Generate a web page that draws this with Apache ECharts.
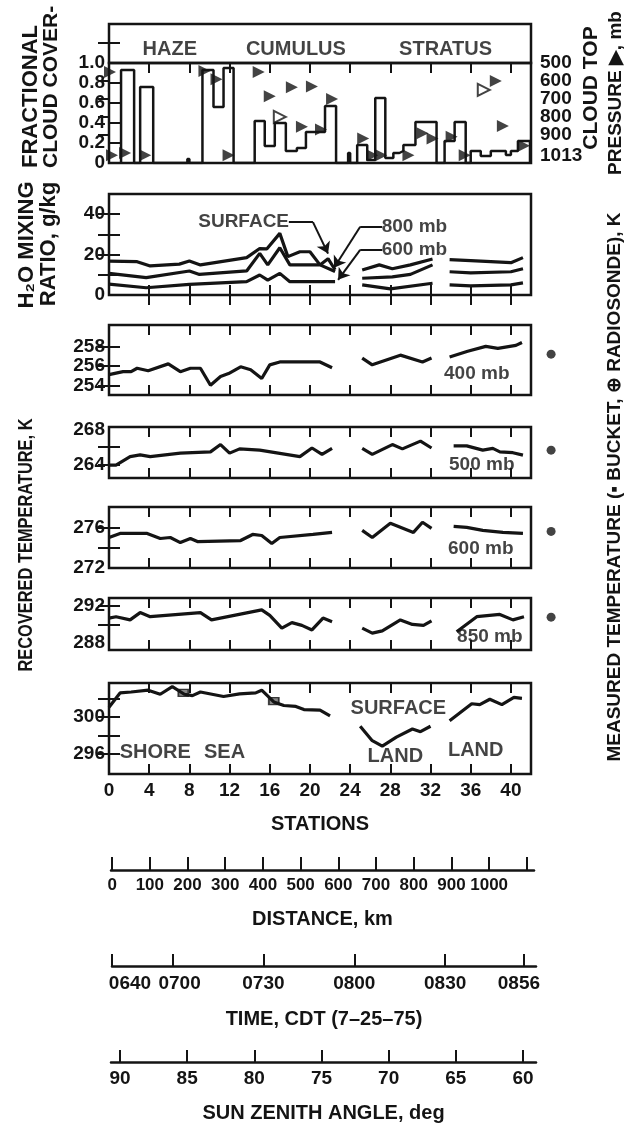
<!DOCTYPE html>
<html><head><meta charset="utf-8">
<script src="https://cdn.jsdelivr.net/npm/echarts@6/dist/echarts.min.js"></script>
<style>html,body{margin:0;padding:0;background:#fff}#c{width:631px;height:1124px}</style>
</head><body><div id="c"></div>
<script>
const FONT = "'Liberation Sans', Arial, sans-serif";
const INK = '#141414';

// ---------- DATA ----------
// fractional cloud cover: step segments (station start, station end, cover)
const cloudStart = [1.2,3.1,7.8,9.3,10.4,11.4,14.5,15.5,16.5,17.6,18.7,19.6,21.5,23.8,24.7,25.7,26.5,27.5,28.3,28.9,29.3,30.5,33.4,34.4,36.0,37.0,38.0,39.5,40.0,40.7];
const cloudEnd   = [2.5,4.4,8.0,10.4,11.4,12.4,15.5,16.5,17.6,18.7,19.6,21.5,22.6,24.0,25.7,26.5,27.5,28.3,28.9,29.3,30.5,32.6,34.4,35.5,37.0,38.0,39.5,40.0,40.7,41.9];
const cloudCover = [0.93,0.76,0.04,0.93,0.56,0.95,0.42,0.17,0.40,0.12,0.15,0.31,0.57,0.10,0.18,0.03,0.65,0.05,0.10,0.12,0.18,0.41,0.22,0.41,0.12,0.07,0.12,0.08,0.12,0.22];
// cloud top pressure (triangles)
const cloudTopStation  = [0.1,0.3,1.6,3.6,9.5,10.7,11.9,14.9,16.0,17.0,18.2,19.2,20.2,21.1,22.2,25.3,26.2,27.1,29.8,31.2,32.2,34.1,35.4,37.3,38.5,39.2,41.3];
const cloudTopPressure = [550,1013,1000,1013,545,590,1013,550,685,800,635,855,630,870,700,920,1013,1013,1013,890,920,910,1013,650,600,850,960];
const cloudTopHollow   = [0,0,0,0,0,0,0,0,0,1,0,0,0,0,0,0,0,0,0,0,0,0,0,1,0,0,0];

// H2O mixing ratio, g/kg  ([station, value], null = gap)
const h2oSurface = [[0,16.8],[2.8,16.5],[4.1,14.4],[7,15.3],[8,16.8],[9.1,14.9],[13.7,18.5],[15,23],[15.7,22.8],[17,30.5],[17.8,19],[19,21.4],[20,21.4],[21,14.9],[21.8,18],[22.5,12.5],null,[25.2,12.4],[26.9,14.9],[28.2,13],[30,14.9],[32.2,17.8],null,[33.9,17.5],[36,17],[38,16.5],[40,16],[41.2,18.5]];
const h2o800 = [[0,10.7],[3.7,8.6],[8,11.9],[9,10.2],[13.7,11.9],[15,20.6],[15.8,14.9],[17,23.4],[18,14.9],[21,14.9],[22.5,11.6],null,[25.2,8.3],[28.2,9],[30,10.2],[32.2,14.9],null,[33.9,11.5],[36,11],[40,11.5],[41.2,13]];
const h2o600 = [[0,5.4],[3.7,3.6],[8,5.3],[13.7,6.6],[15,9.9],[15.8,7.4],[17,10.7],[18,6.6],[22.5,6.6],null,[25.2,5],[28,3],[32.2,5.8],null,[33.9,5],[36,4.5],[40,5],[41.2,6]];

// recovered temperatures, K
const t400 = [[0,255.1],[1.4,255.4],[2.2,255.4],[2.8,255.75],[3.9,255.5],[5.9,256.2],[7.1,255.4],[8.1,255.75],[9.1,255.75],[10.1,254.0],[11.1,254.9],[11.9,255.2],[13.1,255.9],[14.1,255.6],[15.2,254.7],[16,256.1],[17,256.4],[21,256.4],[22.2,255.8],null,[25.2,256.8],[26.2,256.1],[29,257.1],[31.2,256.4],[32.1,256.8],null,[33.9,256.9],[35.7,257.5],[37.5,258.0],[38.7,257.8],[40.5,258.1],[41.1,258.4]];
const t500 = [[0,263.9],[0.7,263.9],[2.1,264.9],[3.1,265.1],[4.1,264.9],[7.1,265.3],[10.1,265.45],[11.1,266.3],[12,265.3],[13,265.8],[15,265.65],[19,264.9],[20.2,265.9],[21.2,265.15],[22.2,265.85],null,[25.2,265.85],[26.2,265.15],[28.2,266.3],[29.2,265.8],[31,266.7],[32.1,265.9],null,[34.3,266.15],[35.6,266.15],[37.2,265.65],[38.2,265.85],[38.9,265.45],[40.2,265.35],[41.2,265.07]];
const t600 = [[0,275.0],[1.1,275.4],[3.8,275.4],[5.1,274.9],[6.1,275.0],[7.1,274.5],[8.1,274.9],[8.8,274.6],[13.1,274.7],[14.3,275.3],[15.2,275.2],[16.2,274.4],[17,275.0],[20.3,275.3],[22.2,275.5],null,[25.2,275.7],[26.2,275.0],[28,276.4],[30.3,275.5],[31.2,276.5],[32.1,275.9],null,[34.3,276.1],[35.6,276.0],[37.2,275.7],[39.2,275.5],[41.2,275.4]];
const t850 = [[0,290.7],[0.7,290.85],[2.1,290.5],[3.1,291.3],[4.1,290.85],[9.1,291.3],[10.2,290.5],[15.2,291.6],[16,291.0],[17.2,289.6],[18.2,290.2],[19.2,289.9],[20.2,289.4],[21.3,290.7],[22.2,290.3],null,[25.2,289.6],[26.2,289.05],[27.2,289.3],[29,290.5],[30.2,290.0],[31.3,289.9],[32.1,290.4],null,[34.6,289.2],[36.6,290.85],[38.9,291.1],[40.2,290.5],[41.3,290.85]];
const tSurface = [[0,301.1],[1.1,302.7],[2.2,302.8],[3.9,303.0],[5.1,302.55],[6.3,303.4],[7.5,302.55],[8.3,302.4],[9.1,302.8],[11.4,302.3],[13,302.6],[14.6,302.7],[15.2,303.0],[16.4,301.7],[17.4,301.3],[18.6,301.2],[19.4,300.85],[21,300.8],[22,300.15],null,[25,299.0],[26.2,297.4],[27.2,296.8],[28.6,297.8],[30.2,298.7],[31,298.4],[32,299.0],null,[33.9,299.6],[36.1,301.5],[36.9,301.4],[37.9,302.0],[39.1,301.4],[40.3,302.2],[41.1,302.1]];

// measured temperatures
const bucketStation = [7.4, 16.4];
const bucketTemp = [302.7, 301.8];
const radiosondeStation = 44.0;
const radiosondeTemp = {t400: 257.2, t500: 265.65, t600: 275.6, t850: 290.8};

// tick labels
const stationTicks = [0,4,8,12,16,20,24,28,32,36,40];
const distanceTicks = [0,100,200,300,400,500,600,700,800,900,1000,1100];
const distanceLabels = [0,100,200,300,400,500,600,700,800,900,1000];
const timeTickMinutes = [0,20,50,80,110,136];
const timeTickLabels = ['0640','0700','0730','0800','0830','0856'];
const sunTicks = [90,85,80,75,70,65,60];
const pressureLabelsA = [500,700,900];
const pressureLabelsB = [600,800,1013];
const coverLabels = [0,0.2,0.4,0.6,0.8,1.0];

// ---------- LAYOUT ----------
const L = 109, R = 100;
const txt = {fontFamily: FONT, fontWeight: 'bold', fontSize: 19, color: INK};
const ttl = {fontFamily: FONT, fontWeight: 'bold', fontSize: 20, color: INK};
const grids = [
  {top: 24, height: 39},   // 0 header
  {top: 63, height: 100},  // 1 cloud
  {top: 194, height: 101}, // 2 h2o
  {top: 325, height: 70},  // 3 400
  {top: 427, height: 51},  // 4 500
  {top: 507, height: 61},  // 5 600
  {top: 598, height: 52},  // 6 850
  {top: 683, height: 91},  // 7 surface
  {top: 860, height: 10, left: 111, right: 97},  // 8 distance
  {top: 956, height: 10, left: 112, right: 95},  // 9 time
  {top: 1054, height: 10, left: 111, right: 95}  // 10 sun
].map((g, i) => Object.assign({left: L, right: R, show: i < 8, borderColor: INK, borderWidth: 2.5, backgroundColor: 'transparent'}, g));

const xAxis = [], yAxis = [];
const innerTicks = stationTicks.filter(v => v > 0);
for (let g = 0; g < 8; g++) {
  const base = {gridIndex: g, type: 'value', min: 0, max: 42, axisLine: {show: false}, splitLine: {show: false},
    axisTick: {show: g !== 1, inside: true, length: 10, lineStyle: {color: INK, width: 2}, customValues: innerTicks},
    axisLabel: {show: false}};
  const bottom = Object.assign({}, base, {position: 'bottom'});
  if (g === 0) bottom.axisTick = {show: false};
  if (g === 7) {
    bottom.axisLabel = Object.assign({show: true, margin: 7, hideOverlap: false, customValues: stationTicks}, txt);
    bottom.name = 'STATIONS'; bottom.nameLocation = 'middle'; bottom.nameGap = 50;
    bottom.nameTextStyle = Object.assign({verticalAlign: 'middle'}, ttl);
  }
  const top = Object.assign({}, base, {position: 'top'});
  if (g === 1) top.axisTick = {show: false};
  xAxis.push(bottom, top);
}
function bareAxis(extra) {
  return Object.assign({type: 'value', axisLine: {show: true, lineStyle: {color: INK, width: 2.5}}, splitLine: {show: false},
    nameLocation: 'middle', nameTextStyle: Object.assign({verticalAlign: 'middle'}, ttl)}, extra);
}
xAxis.push(bareAxis({gridIndex: 8, min: -3, max: 1119, name: 'DISTANCE, km', nameGap: 49,
  axisTick: {inside: true, length: 13, lineStyle: {color: INK, width: 2}, customValues: distanceTicks},
  axisLabel: Object.assign({margin: 7, hideOverlap: false, showMinLabel: true, showMaxLabel: true, customValues: distanceLabels,
    formatter: v => String(v)}, txt, {fontSize: 17})}));
xAxis.push(bareAxis({gridIndex: 9, min: 0, max: 140, name: 'TIME, CDT (7–25–75)', nameGap: 53,
  axisTick: {inside: true, length: 12, lineStyle: {color: INK, width: 2}, customValues: timeTickMinutes},
  axisLabel: Object.assign({margin: 8, hideOverlap: false, customValues: timeTickMinutes,
    formatter: v => { const i = timeTickMinutes.indexOf(v); const s = timeTickLabels[i];
      return i === 0 ? '{a|' + s + '}' : i === 1 ? '{b|' + s + '}' : i === 5 ? '{c|' + s + '}' : s; },
    rich: {a: Object.assign({padding: [0, 0, 0, 36]}, txt), b: Object.assign({padding: [0, 0, 0, 14]}, txt), c: Object.assign({padding: [0, 10, 0, 0]}, txt)}}, txt)}));
xAxis.push(bareAxis({gridIndex: 10, min: 59.03, max: 90.67, inverse: true, name: 'SUN ZENITH ANGLE, deg', nameGap: 51,
  axisTick: {inside: true, length: 12, lineStyle: {color: INK, width: 2}, customValues: sunTicks},
  axisLabel: Object.assign({margin: 7, hideOverlap: false, customValues: sunTicks}, txt)}));

function yPair(g, min, max, ticks, labels, fmt, rightOpts) {
  const left = {gridIndex: g, type: 'value', min, max, position: 'left', axisLine: {show: false}, splitLine: {show: false},
    axisTick: {show: ticks.length > 0, inside: true, length: 11, lineStyle: {color: INK, width: 2}, customValues: ticks},
    axisLabel: Object.assign({show: labels.length > 0, margin: 4, hideOverlap: false, showMinLabel: true, showMaxLabel: true,
      customValues: labels, formatter: fmt || (v => String(v)), lineHeight: 15}, txt)};
  const right = Object.assign({}, left, {position: 'right', axisLabel: {show: false}}, rightOpts || {});
  yAxis.push(left, right);
}
const pressureAxis = labels => ({
  min: 500, max: 1056, inverse: true,
  axisTick: {show: labels === pressureLabelsA, inside: true, length: 11, lineStyle: {color: INK, width: 2}, customValues: [600, 700, 800, 900]},
  axisLabel: Object.assign({show: true, margin: 9, hideOverlap: false, showMinLabel: true, showMaxLabel: true,
    customValues: labels, formatter: v => String(v)}, txt)});
yPair(0, 0, 1, [0.52], [], null);
yPair(1, 0, 1, [0.2, 0.4, 0.6, 0.8], coverLabels, v => v === 0 ? '0' : v.toFixed(1), pressureAxis(pressureLabelsA));
yPair(2, 0, 50, [10, 20, 30, 40], [0, 20, 40], null);
yPair(3, 253, 260.2, [254, 256, 258], [254, 256, 258], null);
yPair(4, 262.4, 268.35, [264, 266], [264, 268], null);
yPair(5, 272, 278, [274, 276], [272, 276], null);
yPair(6, 287.2, 292.9, [290, 292], [288, 292], null);
yPair(7, 293.7, 303.8, [296, 298, 300, 302], [296, 300], null);
for (let g = 8; g < 11; g++) yAxis.push({gridIndex: g, type: 'value', show: false, min: 0, max: 1});
// second set of pressure labels (split to keep stacked labels from hiding each other)
yAxis.push(Object.assign({gridIndex: 1, type: 'value', position: 'right', axisLine: {show: false}, splitLine: {show: false}}, pressureAxis(pressureLabelsB)));

// ---------- SERIES ----------
const series = [];
const lineStyle = {color: INK, width: 3.2};
function addLines(arr, g) {
  let cur = [];
  const flush = () => { if (cur.length) series.push({type: 'line', xAxisIndex: 2 * g, yAxisIndex: 2 * g, data: cur, symbol: 'none', lineStyle, silent: true, clip: false}); cur = []; };
  arr.forEach(p => { if (p === null) flush(); else cur.push(p); });
  flush();
}
function addLabels(g, items, style) {
  series.push({type: 'scatter', xAxisIndex: 2 * g, yAxisIndex: 2 * g, symbolSize: 1, itemStyle: {color: 'rgba(0,0,0,0)'}, silent: true, clip: false,
    data: items.map(it => ({name: it[0], value: [it[1], it[2]]})),
    label: Object.assign({show: true, position: 'inside', formatter: p => p.name}, style || txt)});
}

// header text
addLabels(0, [['HAZE', 6.05, 0.35], ['CUMULUS', 18.6, 0.35], ['STRATUS', 33.5, 0.35]], ttl);

// cloud cover outline
const cloudPath = [];
let prevEnd = null;
cloudStart.forEach((s, i) => {
  const e = cloudEnd[i], v = cloudCover[i];
  if (prevEnd === null || Math.abs(prevEnd - s) > 1e-6) {
    if (prevEnd !== null) cloudPath.push([prevEnd, 0]);
    cloudPath.push([s, 0]);
  }
  cloudPath.push([s, v], [e, v]);
  prevEnd = e;
});
cloudPath.push([prevEnd, 0]);
series.push({type: 'line', xAxisIndex: 2, yAxisIndex: 2, data: cloudPath, symbol: 'none', lineStyle: {color: INK, width: 2.5}, silent: true});
// cloud top pressure triangles
series.push({type: 'scatter', xAxisIndex: 2, yAxisIndex: 3, symbol: 'triangle', symbolRotate: -90, symbolSize: 12, silent: true, clip: false,
  data: cloudTopStation.map((s, i) => ({value: [s, cloudTopPressure[i]],
    itemStyle: cloudTopHollow[i] ? {color: '#fff', borderColor: INK, borderWidth: 2} : {color: INK}}))});

// H2O
addLines(h2oSurface, 2); addLines(h2o800, 2); addLines(h2o600, 2);
addLabels(2, [['SURFACE', 13.4, 36.1], ['800 mb', 30.4, 34.0], ['600 mb', 30.4, 22.4]]);
const arrowLines = [
  [[17.9, 36.1], [20.3, 36.1], 'none'], [[20.3, 36.1], [21.8, 20.5], 'arrow'],
  [[25.0, 33.8], [27.2, 33.8], 'none'], [[25.0, 33.8], [22.4, 13.5], 'arrow'],
  [[25.0, 22.3], [27.2, 22.3], 'none'], [[25.0, 22.3], [22.8, 7.5], 'arrow']
];
series.push({type: 'line', xAxisIndex: 4, yAxisIndex: 4, data: [], silent: true,
  markLine: {silent: true, animation: false, symbolSize: 11, label: {show: false}, lineStyle: {color: INK, width: 2, type: 'solid'},
    data: arrowLines.map(a => [{coord: a[0], symbol: 'none'}, {coord: a[1], symbol: a[2]}])}});

// temperatures
addLines(t400, 3); addLines(t500, 4); addLines(t600, 5); addLines(t850, 6); addLines(tSurface, 7);
addLabels(3, [['400 mb', 36.6, 255.15]]);
addLabels(4, [['500 mb', 37.1, 263.9]]);
addLabels(5, [['600 mb', 37.0, 273.9]]);
addLabels(6, [['850 mb', 37.9, 288.65]]);
addLabels(7, [['SURFACE', 28.8, 301.0], ['SHORE', 4.6, 296.1], ['SEA', 11.5, 296.1], ['LAND', 28.5, 295.6], ['LAND', 36.5, 296.3]], ttl);
[['t400', 3], ['t500', 4], ['t600', 5], ['t850', 6]].forEach(([k, g]) => {
  series.push({type: 'scatter', xAxisIndex: 2 * g, yAxisIndex: 2 * g, symbol: 'circle', symbolSize: 9, clip: false, silent: true,
    itemStyle: {color: INK}, data: [[radiosondeStation, radiosondeTemp[k]]]});
});
series.push({type: 'scatter', xAxisIndex: 14, yAxisIndex: 14, symbol: 'rect', symbolSize: [10, 7], silent: true,
  itemStyle: {color: '#666', borderColor: INK, borderWidth: 1.5}, data: bucketStation.map((s, i) => [s, bucketTemp[i]])});

// side titles
function vtext(text, x, y, size, align, sx) {
  return {type: 'text', x, y, rotation: Math.PI / 2, scaleX: sx || 1, silent: true,
    style: {text, font: 'bold ' + size + 'px ' + FONT, fill: INK, align: align || 'center', verticalAlign: 'middle'}};
}
const graphic = [
  vtext('FRACTIONAL', 31, 168, 22, 'left'),
  vtext('CLOUD COVER-', 51, 168, 21, 'left'),
  vtext('H₂O MIXING', 27, 245, 22),
  vtext('RATIO, g/kg', 49, 244, 22),
  vtext('RECOVERED TEMPERATURE, K', 26, 545, 20, 'center', 0.82),
  vtext('CLOUD TOP', 591, 88, 21),
  vtext('PRESSURE ▶, mb', 616, 93, 19),
  vtext('MEASURED TEMPERATURE (▪ BUCKET, ⊕ RADIOSONDE), K', 615, 487, 19)
];

const chart = echarts.init(document.getElementById('c'), null, {renderer: 'canvas', width: 631, height: 1124});
chart.setOption({animation: false, backgroundColor: '#fff', grid: grids, xAxis, yAxis, series, graphic});
</script></body></html>
